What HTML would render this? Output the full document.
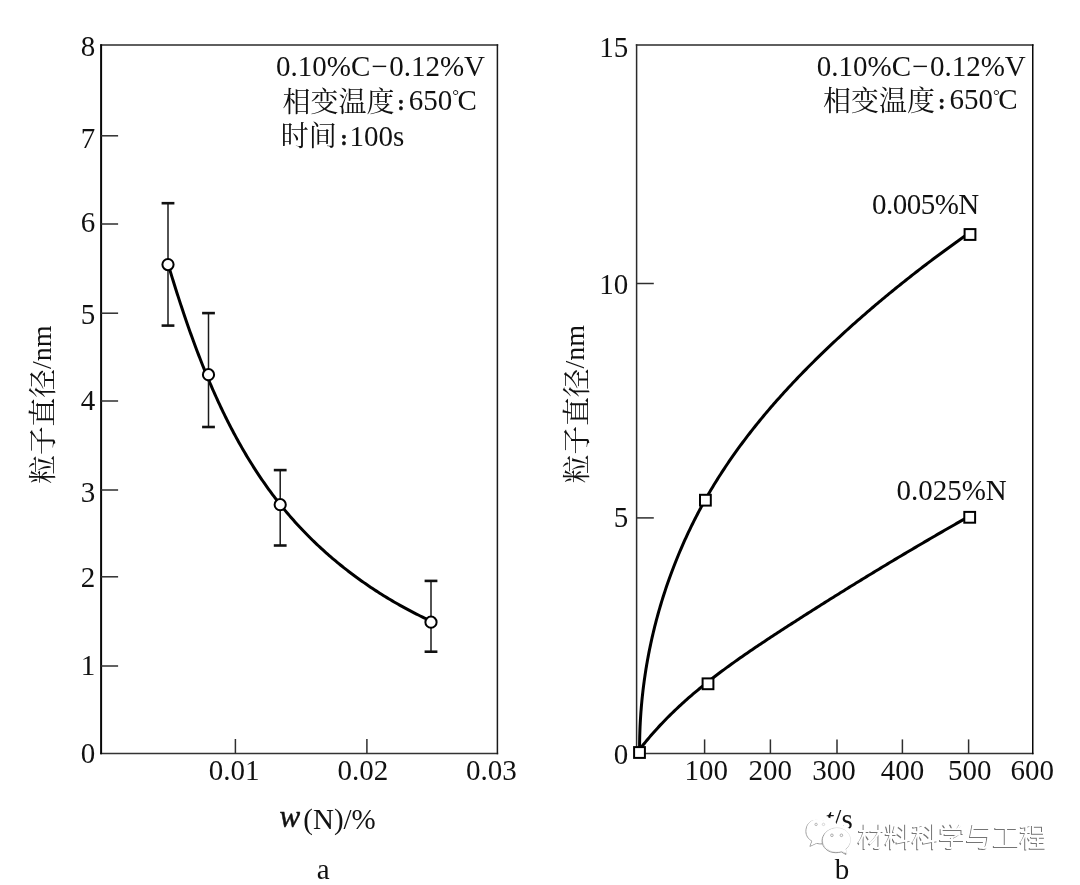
<!DOCTYPE html>
<html><head><meta charset="utf-8"><title>粒子直径</title>
<style>
html,body{margin:0;padding:0;background:#fff;}
body{width:1080px;height:885px;overflow:hidden;}
svg{display:block;will-change:transform;}
text{font-family:"Liberation Serif","Noto Serif CJK SC",serif;fill:#111;font-size:29px;}
.cj{font-family:"Liberation Serif","Noto Serif CJK SC",serif;font-size:28px;}
.co{font-family:"Liberation Serif",serif;font-weight:bold;font-size:21px;stroke:#111;stroke-width:0.4px;}
.dg{font-size:17px;}
.it{font-style:italic;}
.wm{font-family:"Liberation Sans","Noto Sans CJK SC",sans-serif;font-size:27px;}
</style></head><body>
<svg width="1080" height="885" viewBox="0 0 1080 885">
<rect x="0" y="0" width="1080" height="885" fill="#fff"/>

<line x1="100.3" y1="45.0" x2="498.2" y2="45.0" stroke="#2a2a2a" stroke-width="1.5"/>
<line x1="100.3" y1="753.5" x2="498.2" y2="753.5" stroke="#333" stroke-width="1.4"/>
<line x1="497.4" y1="44.3" x2="497.4" y2="754.2" stroke="#1a1a1a" stroke-width="1.5"/>
<line x1="101.1" y1="44.3" x2="101.1" y2="754.2" stroke="#080808" stroke-width="2.0"/>
<g stroke="#2e2e2e" stroke-width="1.5">
<line x1="101.1" y1="666.0" x2="118.1" y2="666.0"/>
<line x1="101.1" y1="576.8" x2="118.1" y2="576.8"/>
<line x1="101.1" y1="490.0" x2="118.1" y2="490.0"/>
<line x1="101.1" y1="401.0" x2="118.1" y2="401.0"/>
<line x1="101.1" y1="313.2" x2="118.1" y2="313.2"/>
<line x1="101.1" y1="224.0" x2="118.1" y2="224.0"/>
<line x1="101.1" y1="135.8" x2="118.1" y2="135.8"/>
<line x1="235.4" y1="753.5" x2="235.4" y2="739"/>
<line x1="366.9" y1="753.5" x2="366.9" y2="739"/>
</g>
<text x="95.2" y="762.5" text-anchor="end">0</text>
<text x="95.2" y="674.8" text-anchor="end">1</text>
<text x="95.2" y="587.2" text-anchor="end">2</text>
<text x="95.2" y="501.5" text-anchor="end">3</text>
<text x="95.2" y="410.3" text-anchor="end">4</text>
<text x="95.2" y="323.9" text-anchor="end">5</text>
<text x="95.2" y="232.4" text-anchor="end">6</text>
<text x="95.2" y="147.5" text-anchor="end">7</text>
<text x="95.2" y="56.2" text-anchor="end">8</text>
<text x="208.7" y="780.2">0.01</text>
<text x="337.5" y="780.2">0.02</text>
<text x="466.1" y="780.2">0.03</text>
<text x="276.1" y="76.4">0.10%C<tspan dx="1">−</tspan><tspan dx="1.5">0.12%V</tspan></text>
<text class="cj" x="282.4" y="111.9">相变温度</text>
<text class="co" x="397.6" y="109.6">:</text>
<text x="408.8" y="109.9">650</text>
<text class="dg" x="452.3" y="101.3">°</text>
<text x="457.6" y="109.9">C</text>
<text class="cj" x="280.8" y="146.4">时间</text>
<text class="co" x="340.4" y="144.8">:</text>
<text x="349.4" y="146.0">100s</text>
<text transform="translate(50.6,483.8) rotate(-90)"><tspan class="cj" style="font-size:28.7px" dy="2.6">粒子直径</tspan><tspan dy="-2.6" style="font-size:28px">/nm</tspan></text>
<text class="it" x="279.4" y="826.8" style="font-size:31px;stroke:#111;stroke-width:0.5px">w</text>
<text x="303.3" y="829">(N)/%</text>
<text x="316.7" y="879.1">a</text>
<path d="M168.25,264.76 L168.85,266.73 L169.45,268.70 L170.04,270.67 L170.65,272.65 L171.25,274.62 L171.86,276.60 L172.47,278.57 L173.08,280.55 L173.70,282.53 L174.31,284.51 L174.94,286.49 L175.56,288.48 L176.19,290.46 L176.82,292.44 L177.45,294.43 L178.09,296.41 L178.73,298.40 L179.38,300.38 L180.02,302.37 L180.67,304.35 L181.33,306.34 L181.99,308.33 L182.65,310.31 L183.31,312.30 L183.98,314.28 L184.65,316.27 L185.33,318.26 L186.01,320.24 L186.69,322.23 L187.38,324.21 L188.07,326.20 L188.77,328.18 L189.47,330.16 L190.17,332.15 L190.88,334.13 L191.59,336.11 L192.31,338.09 L193.03,340.07 L193.76,342.05 L194.48,344.02 L195.22,346.00 L195.96,347.98 L196.70,349.95 L197.45,351.92 L198.20,353.89 L198.96,355.86 L199.72,357.83 L200.48,359.80 L201.26,361.76 L202.03,363.72 L202.81,365.68 L203.60,367.64 L204.39,369.60 L205.18,371.56 L205.99,373.51 L206.79,375.46 L207.60,377.41 L208.42,379.36 L209.24,381.30 L210.07,383.24 L210.90,385.18 L211.74,387.12 L212.58,389.05 L213.43,390.99 L214.29,392.91 L215.15,394.84 L216.01,396.76 L216.89,398.68 L217.76,400.60 L218.65,402.52 L219.54,404.43 L220.43,406.34 L221.33,408.24 L222.24,410.14 L223.15,412.04 L224.07,413.93 L225.00,415.83 L225.93,417.71 L226.87,419.60 L227.81,421.48 L228.76,423.35 L229.72,425.23 L230.68,427.10 L231.65,428.96 L232.63,430.82 L233.61,432.68 L234.60,434.53 L235.60,436.38 L236.60,438.22 L237.61,440.06 L238.63,441.90 L239.65,443.73 L240.68,445.55 L241.72,447.37 L242.76,449.19 L243.81,451.00 L244.87,452.81 L245.94,454.61 L247.01,456.41 L248.09,458.20 L249.18,459.99 L250.27,461.77 L251.38,463.54 L252.49,465.32 L253.60,467.08 L254.73,468.84 L255.86,470.60 L257.00,472.35 L258.15,474.09 L259.30,475.83 L260.47,477.56 L261.64,479.29 L262.82,481.01 L264.00,482.72 L265.20,484.43 L266.40,486.13 L267.61,487.83 L268.83,489.52 L270.06,491.20 L271.30,492.88 L272.54,494.55 L273.79,496.21 L275.05,497.87 L276.32,499.52 L277.60,501.17 L278.88,502.80 L280.18,504.43 L281.48,506.06 L282.79,507.67 L284.11,509.28 L285.44,510.89 L286.78,512.48 L288.13,514.07 L289.48,515.65 L290.85,517.23 L292.22,518.79 L293.60,520.35 L294.99,521.90 L296.39,523.45 L297.80,524.99 L299.21,526.52 L300.64,528.04 L302.07,529.55 L303.51,531.06 L304.96,532.56 L306.41,534.05 L307.88,535.54 L309.35,537.02 L310.83,538.49 L312.32,539.95 L313.82,541.41 L315.33,542.85 L316.84,544.29 L318.36,545.72 L319.89,547.15 L321.43,548.57 L322.97,549.98 L324.52,551.38 L326.08,552.77 L327.65,554.16 L329.22,555.53 L330.80,556.90 L332.39,558.27 L333.99,559.62 L335.59,560.97 L337.21,562.31 L338.82,563.64 L340.45,564.96 L342.08,566.28 L343.72,567.58 L345.37,568.88 L347.02,570.17 L348.68,571.46 L350.35,572.73 L352.03,574.00 L353.71,575.26 L355.39,576.51 L357.09,577.75 L358.79,578.99 L360.50,580.21 L362.21,581.43 L363.93,582.64 L365.66,583.84 L367.39,585.04 L369.13,586.22 L370.88,587.40 L372.63,588.57 L374.39,589.73 L376.16,590.88 L377.93,592.02 L379.70,593.16 L381.49,594.29 L383.28,595.40 L385.07,596.51 L386.87,597.62 L388.68,598.71 L390.49,599.79 L392.31,600.87 L394.13,601.94 L395.96,603.00 L397.80,604.05 L399.64,605.09 L401.49,606.12 L403.34,607.15 L405.19,608.16 L407.06,609.17 L408.92,610.17 L410.80,611.16 L412.67,612.14 L414.56,613.11 L416.45,614.07 L418.34,615.03 L420.24,615.97 L422.14,616.91 L424.05,617.84 L425.96,618.76 L427.88,619.67 L429.80,620.57 L431.73,621.46" fill="none" stroke="#000" stroke-width="3" stroke-linecap="round" stroke-linejoin="round"/>
<line x1="168" y1="203.2" x2="168" y2="325.6" stroke="#1a1a1a" stroke-width="1.5"/>
<line x1="161.6" y1="203.2" x2="174.4" y2="203.2" stroke="#111" stroke-width="2.6"/>
<line x1="161.6" y1="325.6" x2="174.4" y2="325.6" stroke="#111" stroke-width="2.6"/>
<circle cx="168" cy="264.6" r="5.6" fill="#fff" stroke="#000" stroke-width="2"/>
<line x1="208.5" y1="313.1" x2="208.5" y2="427" stroke="#1a1a1a" stroke-width="1.5"/>
<line x1="202.1" y1="313.1" x2="214.9" y2="313.1" stroke="#111" stroke-width="2.6"/>
<line x1="202.1" y1="427" x2="214.9" y2="427" stroke="#111" stroke-width="2.6"/>
<circle cx="208.5" cy="374.7" r="5.6" fill="#fff" stroke="#000" stroke-width="2"/>
<line x1="280.2" y1="470.1" x2="280.2" y2="545.5" stroke="#1a1a1a" stroke-width="1.5"/>
<line x1="273.8" y1="470.1" x2="286.59999999999997" y2="470.1" stroke="#111" stroke-width="2.6"/>
<line x1="273.8" y1="545.5" x2="286.59999999999997" y2="545.5" stroke="#111" stroke-width="2.6"/>
<circle cx="280.2" cy="504.7" r="5.6" fill="#fff" stroke="#000" stroke-width="2"/>
<line x1="431" y1="580.9" x2="431" y2="651.7" stroke="#1a1a1a" stroke-width="1.5"/>
<line x1="424.6" y1="580.9" x2="437.4" y2="580.9" stroke="#111" stroke-width="2.6"/>
<line x1="424.6" y1="651.7" x2="437.4" y2="651.7" stroke="#111" stroke-width="2.6"/>
<circle cx="431" cy="622.2" r="5.6" fill="#fff" stroke="#000" stroke-width="2"/>
<line x1="635.8000000000001" y1="45.0" x2="1033.55" y2="45.0" stroke="#2a2a2a" stroke-width="1.5"/>
<line x1="635.8000000000001" y1="753.5" x2="1033.55" y2="753.5" stroke="#333" stroke-width="1.4"/>
<line x1="1032.75" y1="44.3" x2="1032.75" y2="754.2" stroke="#080808" stroke-width="1.5"/>
<line x1="636.6" y1="44.3" x2="636.6" y2="754.2" stroke="#2a2a2a" stroke-width="1.5"/>
<g stroke="#2e2e2e" stroke-width="1.5">
<line x1="636.6" y1="517.9" x2="653.8" y2="517.9"/>
<line x1="636.6" y1="283.5" x2="653.8" y2="283.5"/>
<line x1="704.6" y1="753.5" x2="704.6" y2="739.4"/>
<line x1="770.4" y1="753.5" x2="770.4" y2="739.4"/>
<line x1="837.0" y1="753.5" x2="837.0" y2="739.4"/>
<line x1="902.4" y1="753.5" x2="902.4" y2="739.4"/>
<line x1="968.6" y1="753.5" x2="968.6" y2="739.4"/>
</g>
<text x="628.2" y="763.5" text-anchor="end">0</text>
<text x="628.2" y="527.3" text-anchor="end">5</text>
<text x="628.2" y="293.7" text-anchor="end">10</text>
<text x="628.2" y="57.4" text-anchor="end">15</text>
<text x="686.5" y="780.3" style="text-anchor:start" dx="-2">100</text>
<text x="750.4" y="780.3" style="text-anchor:start" dx="-2">200</text>
<text x="814.3" y="780.3" style="text-anchor:start" dx="-2">300</text>
<text x="882.8" y="780.3" style="text-anchor:start" dx="-2">400</text>
<text x="950.0" y="780.3" style="text-anchor:start" dx="-2">500</text>
<text x="1012.4" y="780.3" style="text-anchor:start" dx="-2">600</text>
<text x="816.8" y="75.9">0.10%C<tspan dx="1">−</tspan><tspan dx="1.5">0.12%V</tspan></text>
<text class="cj" x="823.1" y="111.4">相变温度</text>
<text class="co" x="938.3" y="109.1">:</text>
<text x="949.5" y="109.4">650</text>
<text class="dg" x="993.0" y="100.8">°</text>
<text x="998.3" y="109.4">C</text>
<text x="871.9" y="213.7" textLength="107.4" lengthAdjust="spacing">0.005%N</text>
<text x="896.4" y="499.8">0.025%N</text>
<text transform="translate(584.0,483.2) rotate(-90)"><tspan class="cj" style="font-size:28.7px" dy="2.6">粒子直径</tspan><tspan dy="-2.6" style="font-size:28px">/nm</tspan></text>
<text x="842.1" y="879" text-anchor="middle">b</text>
<text x="825.3" y="829.4"><tspan class="it">t</tspan>/s</text>
<path d="M639.59,752.81 L639.58,750.64 L639.58,748.47 L639.58,746.30 L639.60,744.13 L639.62,741.96 L639.66,739.79 L639.70,737.62 L639.75,735.46 L639.82,733.29 L639.89,731.13 L639.97,728.96 L640.06,726.80 L640.16,724.64 L640.27,722.47 L640.39,720.31 L640.52,718.16 L640.66,716.00 L640.80,713.84 L640.96,711.68 L641.13,709.53 L641.30,707.38 L641.49,705.22 L641.68,703.07 L641.88,700.92 L642.09,698.77 L642.31,696.63 L642.55,694.48 L642.79,692.34 L643.03,690.19 L643.29,688.05 L643.56,685.91 L643.84,683.77 L644.12,681.64 L644.41,679.50 L644.72,677.37 L645.03,675.23 L645.35,673.10 L645.68,670.98 L646.02,668.85 L646.37,666.72 L646.73,664.60 L647.10,662.48 L647.47,660.36 L647.86,658.24 L648.25,656.12 L648.65,654.01 L649.06,651.90 L649.48,649.79 L649.91,647.68 L650.35,645.58 L650.80,643.47 L651.25,641.37 L651.72,639.27 L652.19,637.17 L652.67,635.08 L653.17,632.99 L653.67,630.90 L654.17,628.81 L654.69,626.72 L655.22,624.64 L655.75,622.56 L656.30,620.48 L656.85,618.41 L657.41,616.33 L657.98,614.26 L658.56,612.19 L659.14,610.13 L659.74,608.07 L660.34,606.01 L660.95,603.95 L661.57,601.89 L662.20,599.84 L662.84,597.79 L663.49,595.75 L664.14,593.70 L664.81,591.66 L665.48,589.63 L666.16,587.59 L666.85,585.56 L667.55,583.53 L668.25,581.51 L668.97,579.48 L669.69,577.46 L670.42,575.45 L671.16,573.44 L671.91,571.43 L672.67,569.42 L673.43,567.42 L674.20,565.42 L674.98,563.42 L675.77,561.43 L676.57,559.44 L677.38,557.45 L678.19,555.47 L679.01,553.49 L679.84,551.51 L680.68,549.54 L681.53,547.57 L682.39,545.61 L683.25,543.65 L684.12,541.69 L685.00,539.74 L685.89,537.79 L686.78,535.84 L687.69,533.90 L688.60,531.96 L689.52,530.03 L690.45,528.10 L691.38,526.17 L692.33,524.25 L693.28,522.33 L694.24,520.41 L695.21,518.50 L696.18,516.60 L697.17,514.69 L698.16,512.79 L699.16,510.90 L700.17,509.01 L701.18,507.13 L702.21,505.24 L703.24,503.37 L704.28,501.49 L705.32,499.63 L706.38,497.76 L707.44,495.90 L708.51,494.05 L709.59,492.20 L710.68,490.35 L711.77,488.51 L712.87,486.68 L713.98,484.84 L715.10,483.02 L716.22,481.19 L717.35,479.38 L718.49,477.56 L719.64,475.75 L720.80,473.95 L721.96,472.15 L723.13,470.36 L724.31,468.57 L725.49,466.78 L726.68,465.00 L727.88,463.23 L729.09,461.46 L730.30,459.69 L731.52,457.93 L732.75,456.17 L733.98,454.42 L735.22,452.67 L736.47,450.92 L737.72,449.18 L738.98,447.45 L740.25,445.72 L741.53,443.99 L742.81,442.27 L744.09,440.55 L745.39,438.84 L746.69,437.13 L747.99,435.43 L749.31,433.73 L750.62,432.03 L751.95,430.34 L753.28,428.65 L754.61,426.97 L755.96,425.29 L757.31,423.62 L758.66,421.95 L760.02,420.28 L761.38,418.62 L762.76,416.96 L764.13,415.31 L765.51,413.66 L766.90,412.01 L768.29,410.37 L769.69,408.74 L771.10,407.10 L772.51,405.47 L773.92,403.85 L775.34,402.23 L776.76,400.61 L778.19,399.00 L779.63,397.39 L781.07,395.78 L782.51,394.18 L783.96,392.59 L785.41,390.99 L786.87,389.40 L788.33,387.82 L789.80,386.24 L791.27,384.66 L792.75,383.08 L794.23,381.51 L795.71,379.95 L797.20,378.38 L798.69,376.82 L800.19,375.27 L801.69,373.72 L803.20,372.17 L804.71,370.63 L806.22,369.08 L807.74,367.55 L809.26,366.01 L810.78,364.48 L812.31,362.96 L813.84,361.44 L815.38,359.92 L816.92,358.40 L818.46,356.89 L820.01,355.38 L821.55,353.87 L823.11,352.37 L824.66,350.87 L826.22,349.38 L827.78,347.89 L829.35,346.40 L830.92,344.92 L832.49,343.44 L834.06,341.96 L835.64,340.48 L837.22,339.01 L838.80,337.54 L840.39,336.08 L841.97,334.62 L843.56,333.16 L845.16,331.71 L846.75,330.26 L848.35,328.81 L849.95,327.36 L851.56,325.92 L853.17,324.49 L854.78,323.05 L856.39,321.62 L858.00,320.19 L859.62,318.77 L861.24,317.35 L862.86,315.93 L864.49,314.52 L866.11,313.10 L867.74,311.70 L869.37,310.29 L871.01,308.89 L872.64,307.49 L874.28,306.10 L875.92,304.71 L877.57,303.32 L879.21,301.93 L880.86,300.55 L882.51,299.17 L884.16,297.80 L885.82,296.43 L887.47,295.06 L889.13,293.69 L890.79,292.33 L892.46,290.97 L894.12,289.62 L895.79,288.26 L897.46,286.91 L899.13,285.57 L900.80,284.23 L902.47,282.89 L904.15,281.55 L905.83,280.22 L907.51,278.89 L909.19,277.56 L910.87,276.24 L912.56,274.92 L914.24,273.60 L915.93,272.29 L917.62,270.98 L919.31,269.67 L921.01,268.36 L922.70,267.06 L924.40,265.77 L926.10,264.47 L927.80,263.18 L929.50,261.89 L931.20,260.61 L932.91,259.32 L934.61,258.04 L936.32,256.77 L938.03,255.50 L939.74,254.23 L941.45,252.96 L943.16,251.70 L944.87,250.44 L946.59,249.18 L948.31,247.93 L950.02,246.68 L951.74,245.43 L953.46,244.18 L955.18,242.94 L956.91,241.70 L958.63,240.47 L960.35,239.24 L962.08,238.01 L963.80,236.78 L965.53,235.56 L967.26,234.34 L968.99,233.12" fill="none" stroke="#000" stroke-width="3" stroke-linecap="round" stroke-linejoin="round"/>
<path d="M637.95,751.58 L639.21,749.94 L640.47,748.30 L641.74,746.67 L643.03,745.06 L644.32,743.45 L645.62,741.85 L646.93,740.26 L648.25,738.68 L649.58,737.12 L650.92,735.56 L652.27,734.01 L653.62,732.47 L654.99,730.93 L656.36,729.41 L657.74,727.90 L659.13,726.39 L660.53,724.90 L661.93,723.41 L663.35,721.93 L664.77,720.46 L666.20,719.00 L667.63,717.54 L669.08,716.10 L670.53,714.66 L671.99,713.23 L673.45,711.81 L674.93,710.39 L676.41,708.98 L677.90,707.58 L679.39,706.19 L680.89,704.81 L682.40,703.43 L683.91,702.06 L685.44,700.70 L686.96,699.34 L688.50,697.99 L690.04,696.65 L691.58,695.31 L693.14,693.98 L694.69,692.66 L696.26,691.35 L697.83,690.04 L699.40,688.73 L700.98,687.43 L702.57,686.14 L704.16,684.85 L705.76,683.57 L707.36,682.30 L708.96,681.03 L710.57,679.77 L712.19,678.51 L713.81,677.26 L715.44,676.01 L717.07,674.77 L718.70,673.53 L720.34,672.29 L721.98,671.07 L723.63,669.84 L725.28,668.62 L726.94,667.41 L728.59,666.20 L730.26,664.99 L731.92,663.79 L733.59,662.60 L735.27,661.40 L736.94,660.21 L738.62,659.03 L740.30,657.85 L741.99,656.67 L743.68,655.49 L745.37,654.32 L747.06,653.15 L748.76,651.99 L750.46,650.83 L752.16,649.67 L753.87,648.51 L755.57,647.36 L757.28,646.21 L758.99,645.06 L760.70,643.92 L762.42,642.77 L764.13,641.63 L765.85,640.50 L767.57,639.36 L769.29,638.23 L771.01,637.09 L772.73,635.96 L774.46,634.84 L776.18,633.71 L777.91,632.58 L779.64,631.46 L781.36,630.34 L783.09,629.22 L784.82,628.10 L786.55,626.98 L788.28,625.86 L790.01,624.74 L791.74,623.63 L793.47,622.51 L795.20,621.40 L796.93,620.29 L798.67,619.18 L800.40,618.07 L802.13,616.96 L803.87,615.85 L805.60,614.74 L807.33,613.63 L809.07,612.53 L810.81,611.42 L812.54,610.32 L814.28,609.22 L816.01,608.12 L817.75,607.02 L819.49,605.92 L821.23,604.82 L822.97,603.73 L824.71,602.63 L826.45,601.54 L828.19,600.44 L829.93,599.35 L831.67,598.26 L833.41,597.17 L835.15,596.08 L836.90,594.99 L838.64,593.90 L840.38,592.82 L842.13,591.73 L843.87,590.65 L845.62,589.56 L847.36,588.48 L849.11,587.40 L850.85,586.32 L852.60,585.24 L854.35,584.16 L856.10,583.09 L857.85,582.01 L859.60,580.94 L861.35,579.86 L863.10,578.79 L864.85,577.72 L866.60,576.65 L868.35,575.58 L870.10,574.51 L871.86,573.44 L873.61,572.37 L875.36,571.31 L877.12,570.24 L878.87,569.18 L880.63,568.12 L882.38,567.06 L884.14,566.00 L885.90,564.94 L887.66,563.88 L889.41,562.82 L891.17,561.77 L892.93,560.71 L894.69,559.66 L896.45,558.60 L898.21,557.55 L899.98,556.50 L901.74,555.45 L903.50,554.40 L905.26,553.35 L907.03,552.31 L908.79,551.26 L910.56,550.22 L912.32,549.17 L914.09,548.13 L915.86,547.09 L917.62,546.05 L919.39,545.01 L921.16,543.97 L922.93,542.93 L924.70,541.90 L926.47,540.86 L928.24,539.83 L930.01,538.79 L931.78,537.76 L933.56,536.73 L935.33,535.70 L937.10,534.67 L938.88,533.64 L940.65,532.61 L942.43,531.59 L944.21,530.56 L945.98,529.54 L947.76,528.51 L949.54,527.49 L951.32,526.47 L953.10,525.45 L954.88,524.43 L956.66,523.41 L958.44,522.40 L960.22,521.38 L962.00,520.36 L963.78,519.35 L965.57,518.34 L967.35,517.33 L969.14,516.31" fill="none" stroke="#000" stroke-width="3" stroke-linecap="round" stroke-linejoin="round"/>
<rect x="634.1" y="747.1" width="10.8" height="10.8" fill="#fff" stroke="#000" stroke-width="2"/>
<rect x="700.0" y="494.8" width="10.8" height="10.8" fill="#fff" stroke="#000" stroke-width="2"/>
<rect x="964.6" y="229.1" width="10.8" height="10.8" fill="#fff" stroke="#000" stroke-width="2"/>
<rect x="702.6" y="678.4" width="10.8" height="10.8" fill="#fff" stroke="#000" stroke-width="2"/>
<rect x="964.3" y="511.9" width="10.8" height="10.8" fill="#fff" stroke="#000" stroke-width="2"/>
<g fill="#fff" stroke="#fff" stroke-width="8" stroke-linejoin="round"><path d="M816.5,819.5 C810.5,819.5 806.8,824.5 806.8,830.5 C806.8,834.8 809.2,838.2 812.8,840.2 L810.8,845.5 L817.3,842.4 C819.2,842.9 821,843.1 822.8,843.1 C823,834 827.5,829.5 834,828.2 C832.6,823 827,819.5 816.5,819.5 Z"/><path d="M836.8,827.9 C829,827.9 823,833.3 823,840 C823,846.6 829,851.8 836.8,851.8 C838.7,851.8 840.5,851.5 842.2,851 L846.8,853.6 L845.6,849 C848.6,846.8 850.4,843.6 850.4,840 C850.4,833.3 844.5,827.9 836.8,827.9 Z"/></g>
<path d="M816.5,819.5 C810.5,819.5 806.8,824.5 806.8,830.5 C806.8,834.8 809.2,838.2 812.8,840.2 L810.8,845.5 L817.3,842.4 C819.2,842.9 821,843.1 822.8,843.1 C823,834 827.5,829.5 834,828.2 C832.6,823 827,819.5 816.5,819.5 Z" transform="translate(-0.9,0.9)" fill="none" stroke="#a0a0a0" stroke-width="1"/>
<path d="M816.5,819.5 C810.5,819.5 806.8,824.5 806.8,830.5 C806.8,834.8 809.2,838.2 812.8,840.2 L810.8,845.5 L817.3,842.4 C819.2,842.9 821,843.1 822.8,843.1 C823,834 827.5,829.5 834,828.2 C832.6,823 827,819.5 816.5,819.5 Z" fill="#fff"/>
<circle cx="816.1" cy="824.4" r="1.2" fill="none" stroke="#b5b5b5" stroke-width="1"/>
<circle cx="823.5" cy="824.4" r="1.2" fill="none" stroke="#d5d5d5" stroke-width="1"/>
<path d="M836.8,827.9 C829,827.9 823,833.3 823,840 C823,846.6 829,851.8 836.8,851.8 C838.7,851.8 840.5,851.5 842.2,851 L846.8,853.6 L845.6,849 C848.6,846.8 850.4,843.6 850.4,840 C850.4,833.3 844.5,827.9 836.8,827.9 Z" fill="none" stroke="#dedede" stroke-width="1"/>
<path d="M836.8,827.9 C829,827.9 823,833.3 823,840 C823,846.6 829,851.8 836.8,851.8 C838.7,851.8 840.5,851.5 842.2,851 L846.8,853.6 L845.6,849 C848.6,846.8 850.4,843.6 850.4,840 C850.4,833.3 844.5,827.9 836.8,827.9 Z" transform="translate(-0.9,0.9)" fill="none" stroke="#959595" stroke-width="1"/>
<path d="M836.8,827.9 C829,827.9 823,833.3 823,840 C823,846.6 829,851.8 836.8,851.8 C838.7,851.8 840.5,851.5 842.2,851 L846.8,853.6 L845.6,849 C848.6,846.8 850.4,843.6 850.4,840 C850.4,833.3 844.5,827.9 836.8,827.9 Z" fill="#fff"/>
<g fill="none" stroke="#ababab" stroke-width="1"><circle cx="831.9" cy="835.3" r="1.3"/><circle cx="841.4" cy="835.3" r="1.3"/></g>
<text class="wm" x="857.6" y="847.2" style="fill:#747474" transform="translate(-1.2,1.2)">材料科学与工程</text>
<text class="wm" x="857.6" y="847.2" style="fill:#fff">材料科学与工程</text>
</svg></body></html>
